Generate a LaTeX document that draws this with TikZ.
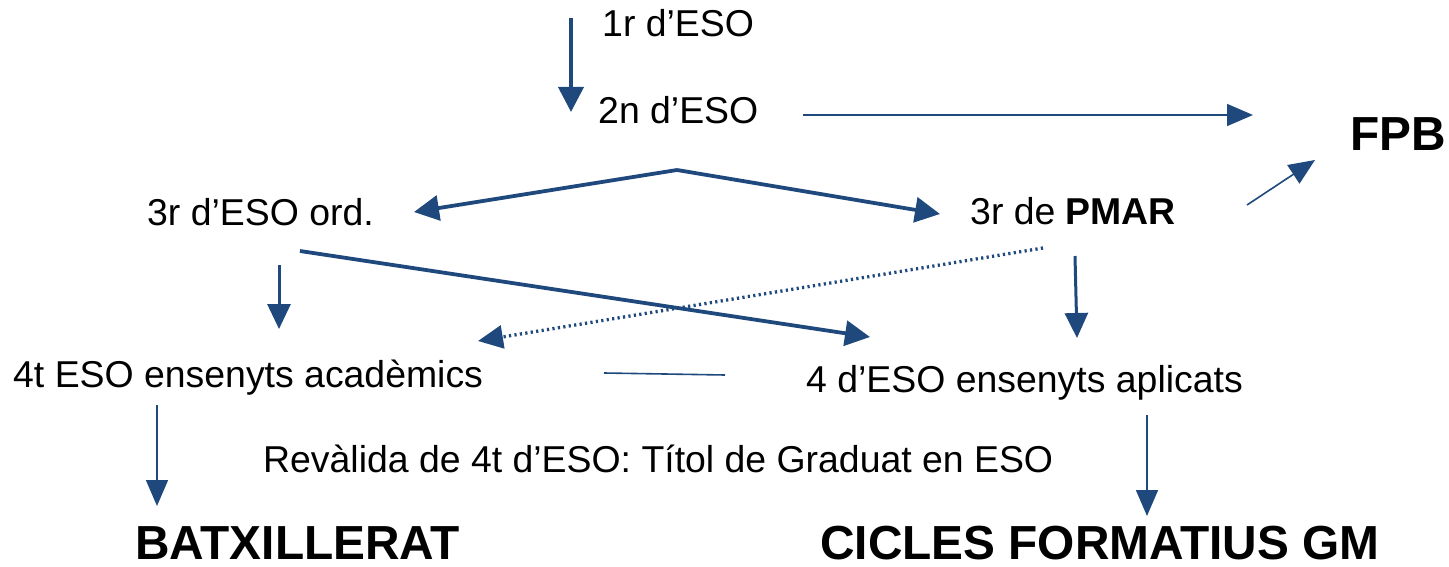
\documentclass[tikz,border=0pt]{standalone}
\usepackage{fontspec}
\setmainfont{Liberation Sans}
\usetikzlibrary{arrows.meta}
\definecolor{azulflecha}{RGB}{31,73,125}

\begin{document}
\begin{tikzpicture}[x=1pt,y=-1pt,
    texto/.style={anchor=base west,inner sep=0pt,font=\fontsize{37.4}{41}\selectfont},
    titulo/.style={anchor=base west,inner sep=0pt,font=\fontsize{47.8}{52}\selectfont\bfseries},
    gruesa/.style={azulflecha,line width=3.8pt,-{Triangle[length=25pt,width=25pt]}},
    media/.style={azulflecha,line width=3pt,-{Triangle[length=25pt,width=23pt]}},
    fina/.style={azulflecha,line width=1.6pt,-{Triangle[length=26pt,width=22pt]}}]
    \useasboundingbox (0,0) rectangle (1449,567);
    % cursos
    \node[texto] (primero) at (602,37) {1r d’ESO};
    \node[texto] (segundo) at (598,124) {2n d’ESO};
    \node[texto] (tercero) at (147,225) {3r d’ESO ord.};
    \node[texto] (pmar) at (970,224) {3r de \textbf{PMAR}};
    \node[texto] (academicos) at (13,387) {4t ESO ensenyts acadèmics};
    \node[texto] (aplicados) at (806,392) {4 d’ESO ensenyts aplicats};
    \node[texto] (revalida) at (263,472) {Revàlida de 4t d’ESO: Títol de Graduat en ESO};
    % salidas
    \node[titulo] (fpb) at (1350,151) {FPB};
    \node[titulo] (bachiller) at (135,559) {BATXILLERAT};
    \node[titulo] (ciclos) at (820,559) {CICLES FORMATIUS GM};
    % extremos de las flechas
    \coordinate (a1) at (571,18);   \coordinate (a2) at (571,112);
    \coordinate (b1) at (803,115);  \coordinate (b2) at (1253,115);
    \coordinate (c0) at (677,170);
    \coordinate (c1) at (414,212);  \coordinate (c2) at (940,214);
    \coordinate (d1) at (1247,205); \coordinate (d2) at (1315,160);
    \coordinate (e1) at (300,251);  \coordinate (e2) at (870,337);
    \coordinate (f1) at (279,265);  \coordinate (f2) at (279,329);
    \coordinate (g1) at (1075,256); \coordinate (g2) at (1077,338);
    \coordinate (h1) at (1043,248); \coordinate (h2) at (478,341);
    \coordinate (i1) at (604,373);  \coordinate (i2) at (725,375);
    \coordinate (j1) at (157,405);  \coordinate (j2) at (157,506);
    \coordinate (k1) at (1147,415); \coordinate (k2) at (1147,516);
    % flechas
    \draw[gruesa] (a1) -- (a2);
    \draw[fina] (b1) -- (b2);
    \draw[gruesa] (c0) -- (c1);
    \draw[gruesa] (c0) -- (c2);
    \draw[fina] (d1) -- (d2);
    \draw[gruesa] (e1) -- (e2);
    \draw[media] (f1) -- (f2);
    \draw[media] (g1) -- (g2);
    \draw[media,line width=3.3pt,dash pattern=on 2.2pt off 3.3pt] (h1) -- (h2);
    \draw[azulflecha,line width=1.6pt] (i1) -- (i2);
    \draw[fina] (j1) -- (j2);
    \draw[fina] (k1) -- (k2);
\end{tikzpicture}
\end{document}
